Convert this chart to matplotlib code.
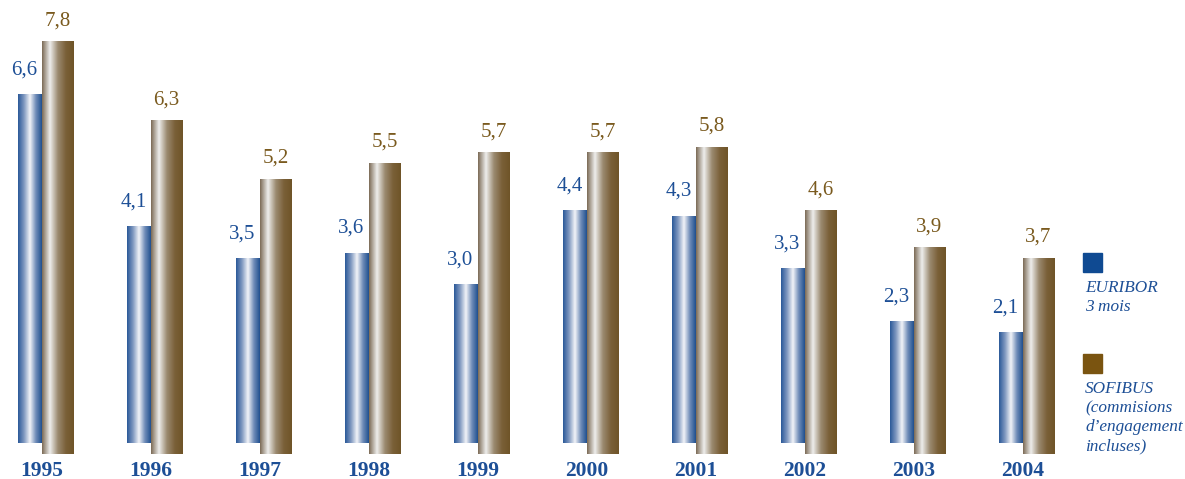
import numpy as np
import matplotlib.pyplot as plt
from matplotlib.colors import LinearSegmentedColormap

# -------------------------------------------------
# Data
# -------------------------------------------------

years = ["1995", "1996", "1997", "1998", "1999", "2000", "2001", "2002", "2003", "2004"]
euribor = [6.6, 4.1, 3.5, 3.6, 3.0, 4.4, 4.3, 3.3, 2.3, 2.1]
sofibus = [7.8, 6.3, 5.2, 5.5, 5.7, 5.7, 5.8, 4.6, 3.9, 3.7]

# -------------------------------------------------
# Style
# -------------------------------------------------

blue_text = "#1d4f96"
brown_text = "#7a5a1e"
blue_map = LinearSegmentedColormap.from_list(
    "blue", ["#1f4f8e", "#6f8cb8", "#f2f4f8", "#7f98c0", "#2a5898"])
brown_map = LinearSegmentedColormap.from_list(
    "brown", ["#7b6a55", "#eeeeec", "#9b8a70", "#7a6038", "#6f5428"])

w_blue = 0.22
w_brown = 0.285
shift = 0.2  # brown bars are drawn a little lower (pseudo 3D)

plt.rcParams["font.family"] = ["Liberation Serif", "DejaVu Serif"]

fig = plt.figure(figsize=(11.85, 4.79), dpi=100)
ax = fig.add_axes([0, 0, 1, 1])

x = np.arange(len(years))
grad = np.linspace(0, 1, 256).reshape(1, -1)


def gradient_bars(xs, heights, width, bottom, cmap):
    bars = ax.bar(xs, heights, width=width, bottom=bottom, align="edge",
                  color="none", edgecolor="none")
    for b in bars:
        x0, y0 = b.get_x(), b.get_y()
        im = ax.imshow(grad, cmap=cmap, aspect="auto",
                       extent=[x0, x0 + b.get_width(), y0, y0 + b.get_height()],
                       zorder=2)
        im.set_clip_path(b)
    return bars


gradient_bars(x, sofibus, w_brown, -shift, brown_map)
gradient_bars(x, euribor, -w_blue, 0, blue_map)

for xi, v in zip(x, euribor):
    ax.text(xi - w_blue / 2 - 0.05, v + 0.37, f"{v:.1f}".replace(".", ","),
            ha="center", va="baseline", fontsize=15, color=blue_text)
for xi, v in zip(x, sofibus):
    ax.text(xi + w_brown / 2, v - shift + 0.3, f"{v:.1f}".replace(".", ","),
            ha="center", va="baseline", fontsize=15, color=brown_text)

for xi, yr in zip(x, years):
    ax.text(xi, -0.52, yr, ha="center", va="center", fontsize=15.5,
            fontweight="bold", color=blue_text)

ax.set_xlim(-0.385, 10.486)
ax.set_ylim(-0.68, 8.375)
ax.axis("off")

# -------------------------------------------------
# Legend
# -------------------------------------------------

fig.patches.append(plt.Rectangle((1083 / 1185, 1 - 272 / 479), 19 / 1185, 19 / 479,
                                 transform=fig.transFigure, color="#0f4a92"))
fig.patches.append(plt.Rectangle((1083 / 1185, 1 - 373 / 479), 19 / 1185, 19 / 479,
                                 transform=fig.transFigure, color="#7a5410"))
fig.text(1085 / 1185, 1 - 280 / 479, "EURIBOR\n3 mois", ha="left", va="top",
         fontsize=12.4, style="italic", color=blue_text, linespacing=1.25)
fig.text(1085 / 1185, 1 - 381 / 479,
         "SOFIBUS\n(commisions\nd\u2019engagement\nincluses)", ha="left", va="top",
         fontsize=12.4, style="italic", color=blue_text, linespacing=1.25)

fig.savefig("out.png", dpi=100)
